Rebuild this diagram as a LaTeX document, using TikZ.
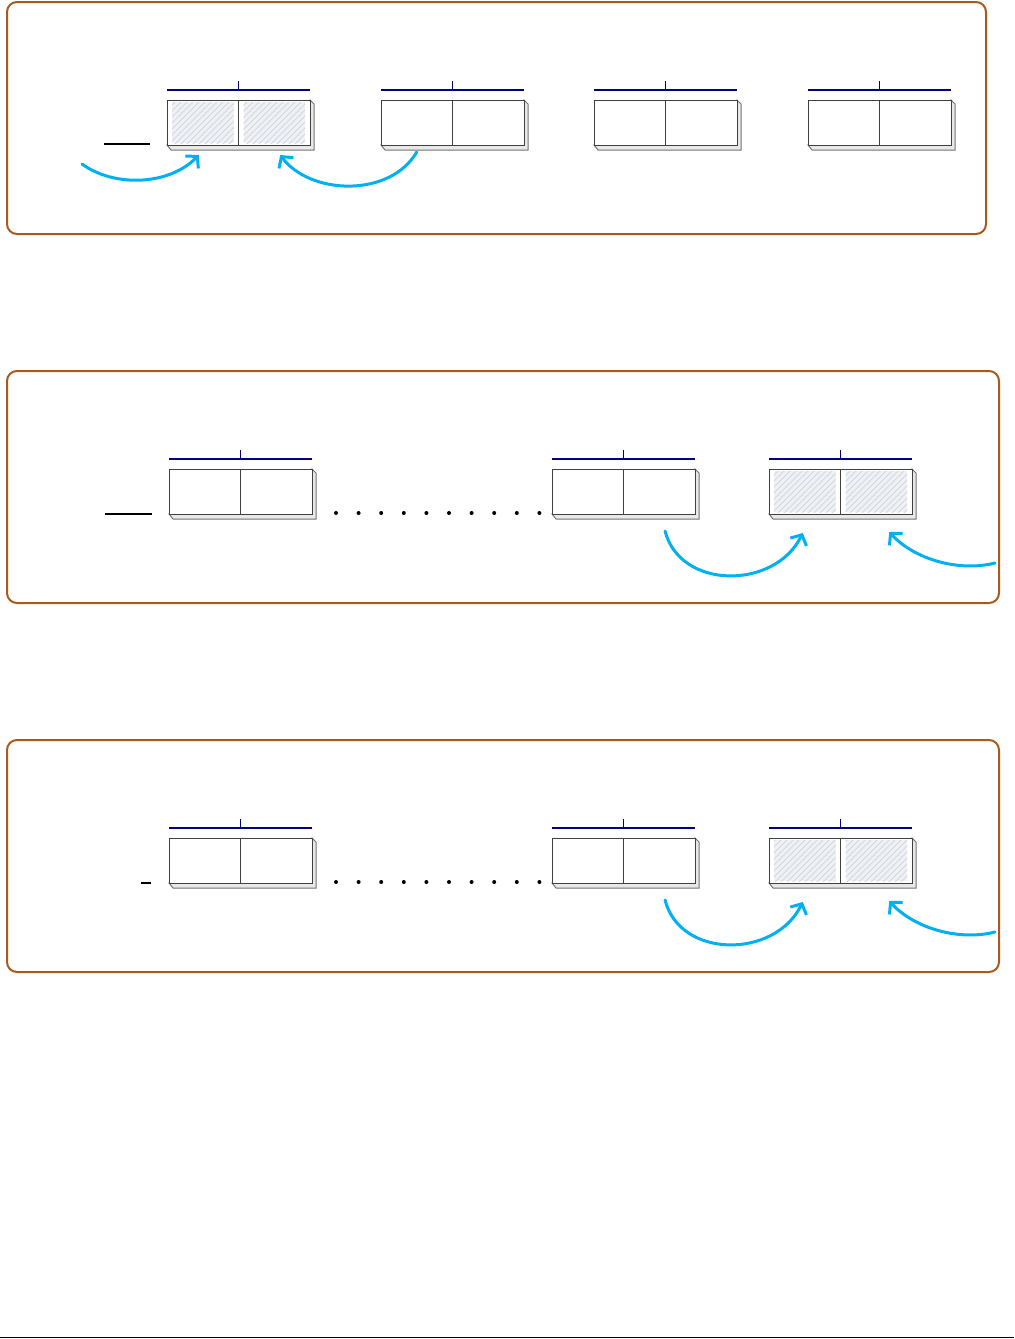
\documentclass[tikz,border=0pt]{standalone}
\usepackage{tikz}
\usetikzlibrary{arrows.meta,patterns}
\definecolor{FrameBrown}{HTML}{A85A1C}
\definecolor{BraceNavy}{HTML}{000080}
\definecolor{ArrowCyan}{HTML}{00B0F0}
\definecolor{HatchBg}{HTML}{EEF2F8}

\tikzset{
  slab/.pic={
    \draw[depth] (0,45) -- (4,50) -- (147,50) -- (147,4) -- (143,0) -- (143,45) -- cycle;
    \node[cell] (-l) at (35.75,22.5) {};
    \node[cell] (-r) at (107.25,22.5) {};
    \draw[brace] (0,-10) -- (143,-10);
    \draw[tick] (71.5,-10) -- (71.5,-19);
  }
}

\begin{document}
\begin{tikzpicture}[
x=0.5pt,y=-0.5pt,
frame/.style={draw=FrameBrown,line width=1pt,rounded corners=5pt},
cell/.style={draw=black!75,fill=white,line width=0.5pt,minimum width=35.75pt,minimum height=22.5pt,inner sep=0pt,outer sep=0pt},
depth/.style={fill=black!9,draw=black!55,line width=0.5pt},
brace/.style={draw=BraceNavy,line width=1.1pt},
tick/.style={draw=BraceNavy,line width=0.6pt},
hatch/.style={fill=HatchBg,postaction={pattern=north east lines,pattern color=black!16}},
blank/.style={draw=black,line width=0.6pt},
dots/.style={draw=black,line width=2pt,line cap=round,dash pattern=on 0pt off 11.3pt},
arr/.style={-{Straight Barb[length=4pt,width=9pt]},draw=ArrowCyan,line width=1.5pt,line cap=round}
]
\useasboundingbox (0,0) rectangle (1014,1339);

% first panel
\draw[frame] (7,2) rectangle (986,234);
\draw[blank] (104,144) -- (150,144);
\pic (a1) at (167,100) {slab};
\pic (a2) at (381,100) {slab};
\pic (a3) at (594,100) {slab};
\pic (a4) at (808,100) {slab};
\path[hatch] ([shift={(2.5pt,-1pt)}]a1-l.north west) rectangle ([shift={(-2.5pt,1pt)}]a1-l.south east);
\path[hatch] ([shift={(2.5pt,-1pt)}]a1-r.north west) rectangle ([shift={(-2.5pt,1pt)}]a1-r.south east);
\coordinate (ina) at (82,164);
\draw[arr] (ina) .. controls (115,188) and (170,185) .. ([xshift=-2pt,yshift=-5pt]a1-l.south);
\draw[arr] ([yshift=-3.5pt]a2-l.south) .. controls (390,198) and (310,195) .. ([xshift=3pt,yshift=-5pt]a1-r.south);

% second panel
\draw[frame] (7,371) rectangle (999,603);
\draw[blank] (105,514) -- (152,514);
\pic (b1) at (169,469) {slab};
\draw[dots] (336,513) -- (540,513);
\pic (b2) at (552,469) {slab};
\pic (b3) at (769,469) {slab};
\path[hatch] ([shift={(2.5pt,-1pt)}]b3-l.north west) rectangle ([shift={(-2.5pt,1pt)}]b3-l.south east);
\path[hatch] ([shift={(2.5pt,-1pt)}]b3-r.north west) rectangle ([shift={(-2.5pt,1pt)}]b3-r.south east);
\coordinate (inb) at (995,563);
\draw[arr] ([xshift=2.9pt,yshift=-8.5pt]b2-r.south) .. controls (680,590) and (775,590) .. ([xshift=-1pt,yshift=-9.5pt]b3-l.south);
\draw[arr] (inb) .. controls (960,572) and (915,560) .. ([xshift=6.5pt,yshift=-9pt]b3-r.south);

% third panel
\begin{scope}[shift={(0,369)},brace/.style={draw=BraceNavy,line width=0.55pt},tick/.style={draw=BraceNavy,line width=0.9pt}]
\draw[frame] (7,371) rectangle (999,603);
\draw[blank] (141,514) -- (151,514);
\pic[tick/.style={draw=BraceNavy,line width=0.5pt}] (c1) at (169,469) {slab};
\draw[dots] (336,513) -- (540,513);
\pic (c2) at (552,469) {slab};
\pic (c3) at (769,469) {slab};
\path[hatch] ([shift={(2.5pt,-1pt)}]c3-l.north west) rectangle ([shift={(-2.5pt,1pt)}]c3-l.south east);
\path[hatch] ([shift={(2.5pt,-1pt)}]c3-r.north west) rectangle ([shift={(-2.5pt,1pt)}]c3-r.south east);
\coordinate (inc) at (995,563);
\draw[arr] ([xshift=2.9pt,yshift=-8.5pt]c2-r.south) .. controls (680,590) and (775,590) .. ([xshift=-1pt,yshift=-9.5pt]c3-l.south);
\draw[arr] (inc) .. controls (960,572) and (915,560) .. ([xshift=6.5pt,yshift=-9pt]c3-r.south);
\end{scope}

\draw[line width=0.6pt] (0,1337.5) -- (1014,1337.5);
\end{tikzpicture}
\end{document}
